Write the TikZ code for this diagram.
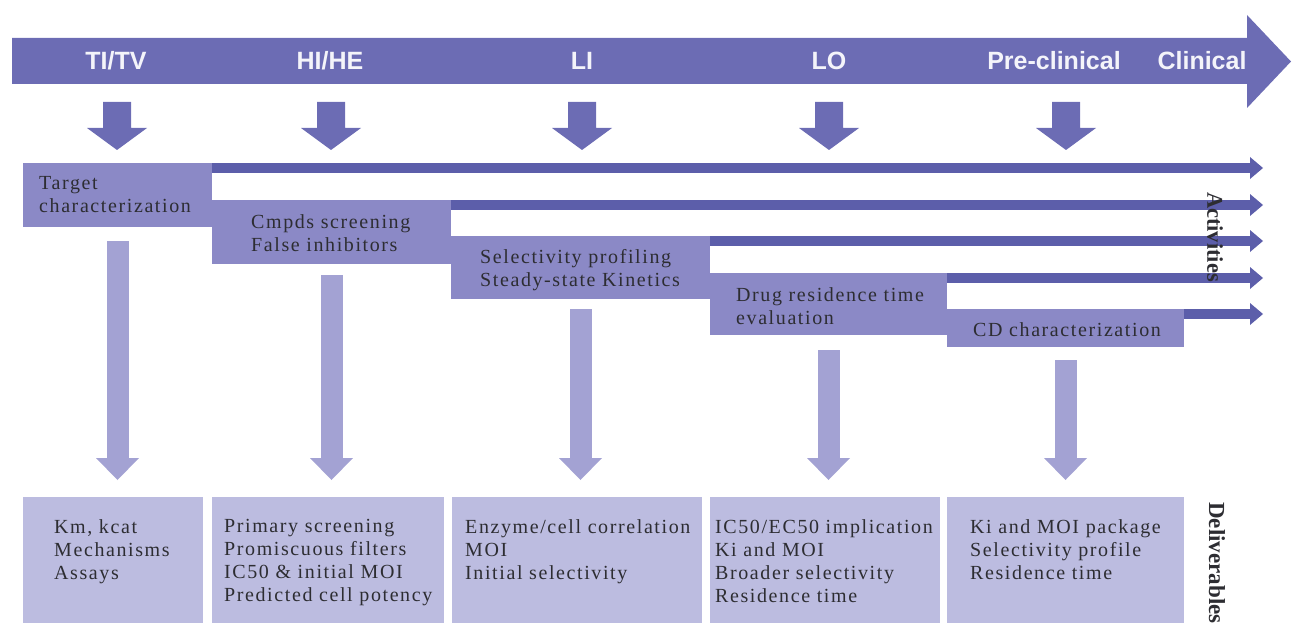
\documentclass[tikz,border=0pt]{standalone}
\usepackage{fontspec}
\setmainfont{Liberation Serif}
\newfontfamily\boxfont[LetterSpace=8]{Liberation Serif}
\newfontfamily\hdrfont{Liberation Sans}
\usetikzlibrary{arrows.meta,calc}
\definecolor{bandc}{RGB}{108,108,180}
\definecolor{barc}{RGB}{92,94,170}
\definecolor{actc}{RGB}{139,137,198}
\definecolor{longc}{RGB}{163,162,211}
\definecolor{delc}{RGB}{188,188,224}
\definecolor{txtc}{RGB}{45,45,50}
\definecolor{hdrtxt}{RGB}{244,244,250}
\begin{document}
\begin{tikzpicture}[x=1pt,y=-1pt,
  actbox/.style={fill=actc,draw=none,anchor=north west,inner sep=0pt,outer sep=0pt},
  delbox/.style={fill=delc,draw=none,anchor=north west,inner sep=0pt,outer sep=0pt,minimum height=140pt},
  boxtext/.style={anchor=north west,align=left,inner sep=0pt,text=txtc,font=\boxfont\fontsize{20}{23}\selectfont},
  hdr/.style={text=hdrtxt,inner sep=0pt,font=\hdrfont\bfseries\fontsize{25}{30}\selectfont},
  sidelabel/.style={rotate=-90,inner sep=0pt,text=txtc},
  bar/.style={draw=barc,line width=10pt,-{Triangle[width=22pt,length=13pt,line width=0pt]}},
  longarr/.style={draw=longc,line width=22pt,-{Triangle[width=43pt,length=22pt,line width=0pt]}}
]
\useasboundingbox (0,0) rectangle (1293,623);

% main timeline arrow
\fill[bandc] (12,38) -- (1247,38) -- (1247,15) -- (1291,61.5) -- (1247,108) -- (1247,84) -- (12,84) -- cycle;
\node[hdr] (h1) at (116,61) {TI/TV};
\node[hdr] (h2) at (330,61) {HI/HE};
\node[hdr] (h3) at (582,61) {LI};
\node[hdr] (h4) at (829,61) {LO};
\node[hdr] (h5) at (1054,61) {Pre-clinical};
\node[hdr] (h6) at (1202,61) {Clinical};

% small down arrows
\foreach \cx in {117,331,582,829,1066}{
  \fill[bandc] (\cx-14,102) -- (\cx+14,102) -- (\cx+14,128) -- (\cx+30,128) -- (\cx,150) -- (\cx-30,128) -- (\cx-14,128) -- cycle;
}

% activity boxes
\node[actbox,minimum width=189pt,minimum height=64pt] (a1) at (23,163) {};
\node[actbox,minimum width=239pt,minimum height=64pt] (a2) at (212,200) {};
\node[actbox,minimum width=259pt,minimum height=63pt] (a3) at (451,236) {};
\node[actbox,minimum width=237pt,minimum height=62pt] (a4) at (710,273) {};
\node[actbox,minimum width=237pt,minimum height=38pt] (a5) at (947,309) {};

\node[boxtext] (a1t) at (39,176) {Target\\characterization};
\node[boxtext] (a2t) at (251,214) {Cmpds screening\\False inhibitors};
\node[boxtext] (a3t) at (480,249) {Selectivity profiling\\Steady-state Kinetics};
\node[boxtext] (a4t) at (736,287) {Drug residence time\\evaluation};
\node[boxtext] (a5t) at (973,322) {CD characterization};

% activity bars
\coordinate (t1) at (1263,168);
\coordinate (t2) at (1263,205);
\coordinate (t3) at (1263,241);
\coordinate (t4) at (1263,278);
\coordinate (t5) at (1263,314);
\draw[bar] ($(a1.north east)+(0,5)$) -- (t1);
\draw[bar] ($(a2.north east)+(0,5)$) -- (t2);
\draw[bar] ($(a3.north east)+(0,5)$) -- (t3);
\draw[bar] ($(a4.north east)+(0,5)$) -- (t4);
\draw[bar] ($(a5.north east)+(0,5)$) -- (t5);

\node[sidelabel,font=\bfseries\fontsize{22.5}{26}\selectfont] (act) at (1215,237) {Activities};

% deliverable boxes
\node[delbox,minimum width=180pt] (d1) at (23,497) {};
\node[delbox,minimum width=232pt] (d2) at (212,497) {};
\node[delbox,minimum width=250pt] (d3) at (452,497) {};
\node[delbox,minimum width=230pt] (d4) at (710,497) {};
\node[delbox,minimum width=237pt] (d5) at (947,497) {};

\node[boxtext] (d1t) at (54,519) {Km, kcat\\Mechanisms\\Assays};
\node[boxtext] (d2t) at (224,519) {Primary screening\\Promiscuous filters\\IC50 \& initial MOI\\Predicted cell potency};
\node[boxtext] (d3t) at (465,519) {Enzyme/cell correlation\\MOI\\Initial selectivity};
\node[boxtext] (d4t) at (715,519) {IC50/EC50 implication\\Ki and MOI\\Broader selectivity\\Residence time};
\node[boxtext] (d5t) at (970,519) {Ki and MOI package\\Selectivity profile\\Residence time};

\node[sidelabel,anchor=west,font=\bfseries\fontsize{23}{27}\selectfont] (del) at (1217,502) {Deliverables};

% long arrows from activities to deliverables
\draw[longarr] ($(a1.south)+(0,14)$) -- ($(a1.south |- d1.north)+(0,-17)$);
\draw[longarr] ($(a2.south)+(0,11)$) -- ($(a2.south |- d2.north)+(0,-17)$);
\draw[longarr] ($(a3.south)+(0,10)$) -- ($(a3.south |- d3.north)+(0,-17)$);
\draw[longarr] ($(a4.south)+(0,15)$) -- ($(a4.south |- d4.north)+(0,-17)$);
\draw[longarr] ($(a5.south)+(0,13)$) -- ($(a5.south |- d5.north)+(0,-17)$);
\end{tikzpicture}
\end{document}
